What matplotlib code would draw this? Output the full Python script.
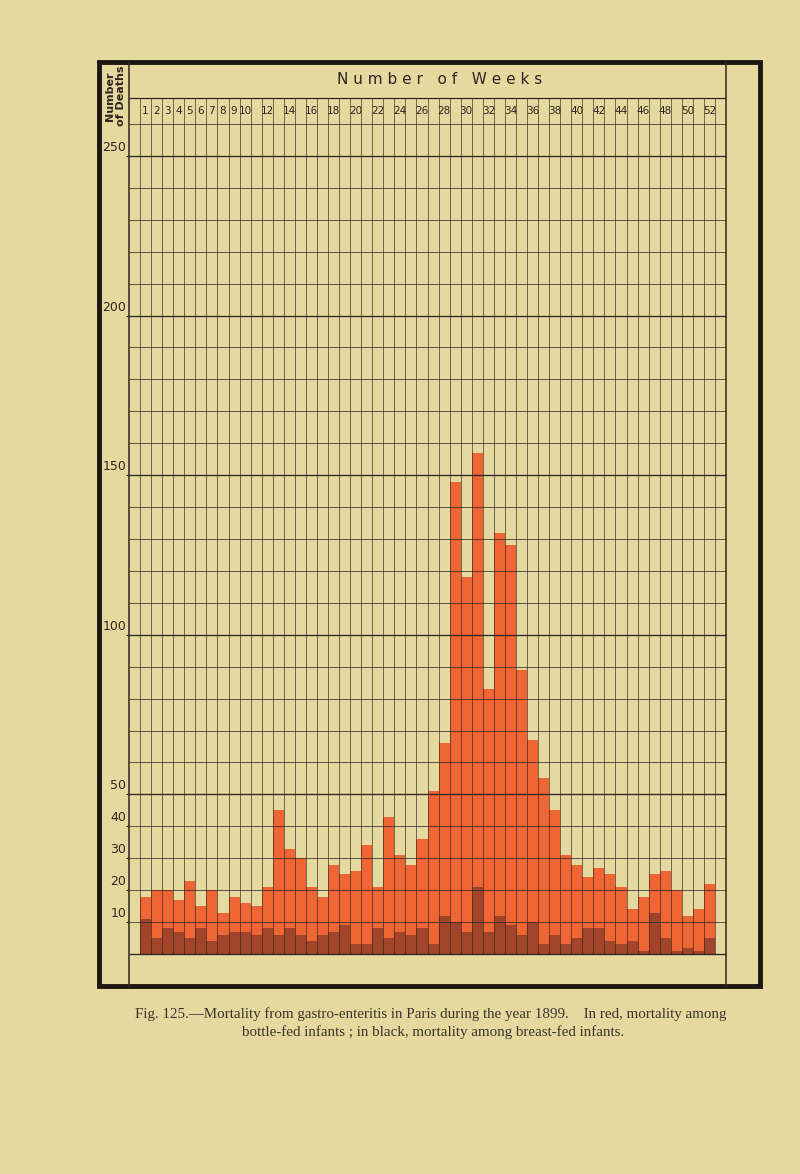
import numpy as np
import matplotlib.pyplot as plt
from matplotlib.patches import Rectangle

# weekly deaths from gastro-enteritis, Paris 1899
weeks = list(range(1, 53))
bottle_fed = [18, 20, 20, 17, 23, 15, 20, 13, 18, 16, 15, 21, 45, 33, 30, 21, 18, 28, 25, 26,
              34, 21, 43, 31, 28, 36, 51, 66, 148, 118, 157, 83, 132, 128, 89, 67, 55, 45, 31, 28,
              24, 27, 25, 21, 14, 18, 25, 26, 20, 12, 14, 22]
breast_fed = [11, 5, 8, 7, 5, 8, 4, 6, 7, 7, 6, 8, 6, 8, 6, 4, 6, 7, 9, 3, 3, 8, 5, 7, 6, 8,
              3, 12, 10, 7, 21, 7, 12, 9, 6, 10, 3, 6, 3, 5, 8, 8, 4, 3, 4, 1, 13, 5, 1, 2, 1, 5]
label_weeks = list(range(1, 11)) + list(range(12, 53, 2))
y_labels = [10, 20, 30, 40, 50, 100, 150, 200, 250]

paper = "#e5d9a0"
ink = "#2e261f"
red = "#ef6533"
dark = "#a2442a"

W, H = 800, 1174
fig = plt.figure(figsize=(8, 11.74), dpi=100, facecolor=paper)

# background axes in pixel coords for frame + text
bg = fig.add_axes([0, 0, 1, 1])
bg.set_xlim(0, W); bg.set_ylim(H, 0)
bg.axis("off")

gl, gr, g0, gtop = 129, 726, 954, 124
ax = fig.add_axes([gl / W, (H - g0) / H, (gr - gl) / W, (g0 - gtop) / H])
ax.set_xlim(-0.5, 53.5); ax.set_ylim(0, 260)
ax.patch.set_alpha(0)
ax.axis("off")

head_top = 260 + (gtop - 97.7) / ((g0 - gtop) / 260.0)

# bars
ax.bar(weeks, bottle_fed, width=1.0, color=red, linewidth=0, zorder=1)
ax.bar(weeks, breast_fed, width=1.0, color=dark, linewidth=0, zorder=2)

# grid
ax.vlines(np.arange(0.5, 53), 0, head_top, color=ink, lw=0.6, alpha=0.75, zorder=3, clip_on=False)
rows = np.arange(0, 261, 10)
ax.hlines(rows, -0.5, 53.5, color=ink, lw=0.65, alpha=0.8, zorder=3, clip_on=False)
ax.hlines([0, 50, 100, 150, 200, 250], -0.5, 53.5, color=ink, lw=0.95, zorder=3, clip_on=False)
ax.hlines(y_labels, -0.75, -0.5, color=ink, lw=0.9, zorder=3, clip_on=False)
ax.hlines(head_top, -0.5, 53.5, color=ink, lw=0.9, zorder=3, clip_on=False)

for v in y_labels:
    ax.text(-0.75, v + 0.6, str(v), ha="right", va="bottom", fontsize=9, color=ink, clip_on=False)
for w in label_weeks:
    ax.text(w, (260 + head_top) / 2, str(w), ha="center", va="center", fontsize=7.5,
            family=["Liberation Sans Narrow", "DejaVu Sans"], color=ink, clip_on=False)

# frame
bg.add_patch(Rectangle((99, 62), 661, 924, fill=False, lw=3.5, edgecolor="#1c1712"))
bg.plot([gl, gl], [62, 986], color=ink, lw=1.1)
bg.plot([gr, gr], [62, 986], color=ink, lw=1.1)

bg.text(440, 80, "N u m b e r   o f   W e e k s", ha="center", va="center", fontsize=11, color=ink)
bg.text(110, 96, "Number", rotation=90, ha="center", va="center", fontsize=8, fontweight="bold", color=ink)
bg.text(121, 96, "of Deaths", rotation=90, ha="center", va="center", fontsize=8, fontweight="bold", color=ink)

# caption
cap1 = "Fig. 125.\u2014Mortality from gastro-enteritis in Paris during the year 1899.    In red, mortality among"
cap2 = "bottle-fed infants ; in black, mortality among breast-fed infants."
bg.text(431, 1014, cap1, ha="center", va="center", fontsize=10.8, family="Liberation Serif", color="#3a332b")
bg.text(433, 1032, cap2, ha="center", va="center", fontsize=10.8, family="Liberation Serif", color="#3a332b")

fig.savefig("out.png", dpi=100, facecolor=paper)
